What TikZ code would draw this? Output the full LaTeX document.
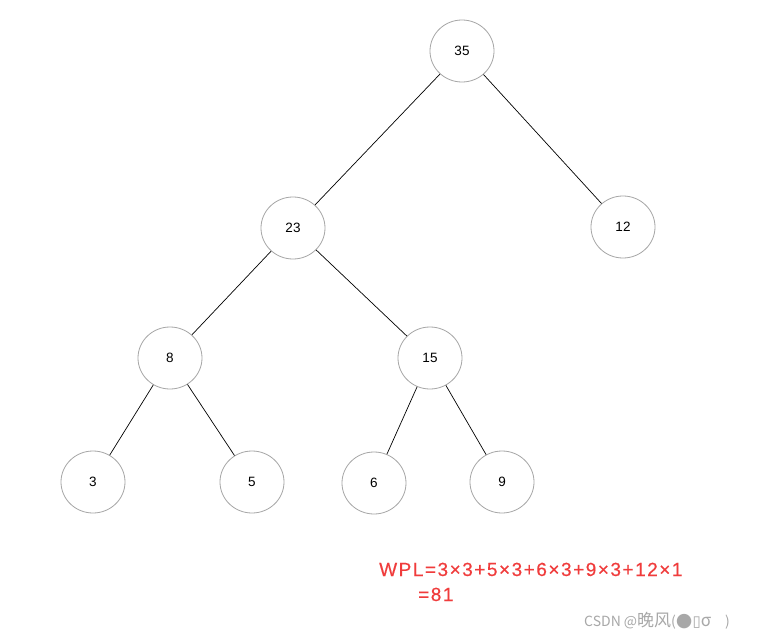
\documentclass[tikz,border=0pt]{standalone}
\usepackage{fontspec}
\usetikzlibrary{shapes.geometric}
\setmainfont{Liberation Sans}
\newfontfamily\cjk{Noto Sans CJK SC}
\newfontfamily\dejavu{DejaVu Sans}
\newfontfamily\wplfont[LetterSpace=8,FakeBold=0.4]{Liberation Sans}
\definecolor{ringgray}{HTML}{A6A6A6}
\definecolor{wplred}{HTML}{F03C3C}
\definecolor{markgray}{HTML}{A8A8A8}
\begin{document}
\begin{tikzpicture}[x=1pt,y=-1pt,
  tnode/.style={draw=ringgray, line width=0.8pt, ellipse, minimum width=64pt, minimum height=62pt, inner sep=0pt, font=\fontsize{13.5}{15}\selectfont},
  tedge/.style={draw=black, line width=0.7pt},
  redtext/.style={anchor=base west, text=wplred, inner sep=0pt, font=\wplfont\fontsize{19}{21}\selectfont}]
\useasboundingbox[fill=white] (0,0) rectangle (766,642);
\node[tnode] (n35) at (462,51) {35};
\node[tnode] (n23) at (293,228) {23};
\node[tnode] (n12) at (623,227) {12};
\node[tnode] (n8) at (170,358) {8};
\node[tnode] (n15) at (430,358) {15};
\node[tnode] (n3) at (93,482) {3};
\node[tnode] (n5) at (252,482) {5};
\node[tnode] (n6) at (374,483) {6};
\node[tnode] (n9) at (502,482) {9};
\draw[tedge] (n35) -- (n23);
\draw[tedge] (n35) -- (n12);
\draw[tedge] (n23) -- (n8);
\draw[tedge] (n23) -- (n15);
\draw[tedge] (n8) -- (n3);
\draw[tedge] (n8) -- (n5);
\draw[tedge] (n15) -- (n6);
\draw[tedge] (n15) -- (n9);
\node[redtext] (wpl) at (379,576) {WPL=3×3+5×3+6×3+9×3+12×1};
\node[redtext] (res) at (418,601) {=81};
\node[anchor=base west, text=markgray, inner sep=0pt, font=\cjk\fontsize{14}{16}\selectfont] (mark) at (584,626) {CSDN @{\fontsize{17}{17}\selectfont 晚风}({\dejavu\fontsize{19}{19}\selectfont ●}{\dejavu\fontsize{15}{15}\selectfont ▯}{\fontsize{17}{17}\selectfont σ}\hspace{14pt})};
\end{tikzpicture}
\end{document}
